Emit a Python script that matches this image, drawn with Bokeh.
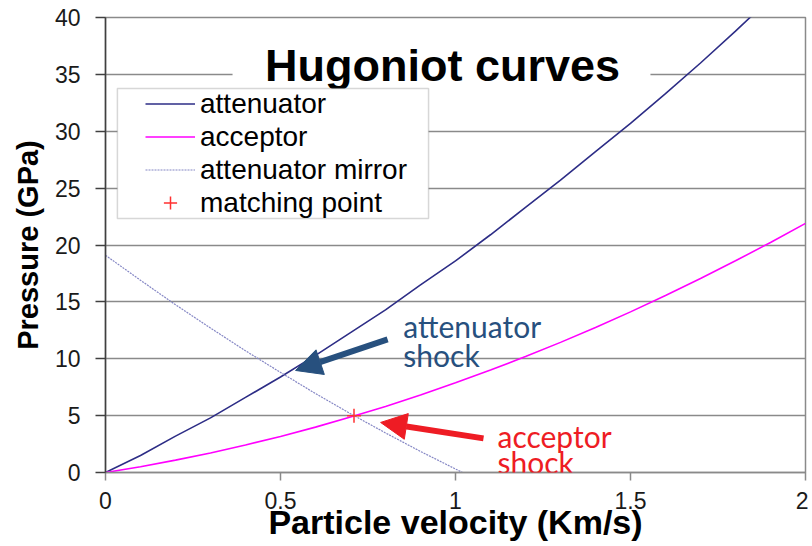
from bokeh.plotting import figure
from bokeh.models import (Range1d, FixedTicker, Legend, LegendItem, Label,
                          BoxAnnotation, Arrow, NormalHead)
from bokeh.embed import file_html
from bokeh.resources import INLINE

# ---------------- data ----------------
att_u = [0.0, 0.1, 0.2, 0.3, 0.4, 0.5, 0.6, 0.7, 0.8, 0.9, 1.0,
         1.1, 1.2, 1.3, 1.4, 1.5, 1.6, 1.7, 1.8, 1.9]
att_p = [0.0, 1.5, 3.2, 4.8, 6.6, 8.4, 10.3, 12.3, 14.3, 16.5, 18.6,
         20.9, 23.3, 25.7, 28.2, 30.7, 33.3, 36.0, 38.8, 41.7]

acc_u = [0.0, 0.1, 0.2, 0.3, 0.4, 0.5, 0.6, 0.7, 0.8, 0.9, 1.0,
         1.1, 1.2, 1.3, 1.4, 1.5, 1.6, 1.7, 1.8, 1.9, 2.0]
acc_p = [0.0, 0.51, 1.09, 1.72, 2.42, 3.17, 3.99, 4.87, 5.81, 6.82, 7.88,
         9.01, 10.19, 11.44, 12.75, 14.12, 15.56, 17.05, 18.61, 20.22, 21.9]

mir_u = [0.0, 0.1, 0.2, 0.3, 0.4, 0.5, 0.6, 0.7, 0.8, 0.9, 1.02]
mir_p = [19.1, 16.9, 14.75, 12.7, 10.7, 8.8, 6.94, 5.17, 3.48, 1.85, 0.0]

match_u = [0.71]
match_p = [5.0]

x_ticks = [0, 0.5, 1, 1.5, 2]
x_tick_labels = ["0", "0.5", "1", "1.5", "2"]
y_ticks = [0, 5, 10, 15, 20, 25, 30, 35, 40]

series_names = ["attenuator", "acceptor", "attenuator mirror", "matching point"]

# ---------------- styles ----------------
FONT = "Liberation Sans"
C_ATT = "#2d2d86"
C_ACC = "#ff00ff"
C_MIR = "#8486c4"
C_MATCH = "#ff3030"
C_BLUE_NOTE = "#27507e"
C_RED_NOTE = "#ee1c24"
GRID = "#8a8a8a"

p = figure(width=808, height=546, output_backend="svg", toolbar_location=None,
           x_range=Range1d(0, 2), y_range=Range1d(0, 40),
           min_border_left=105, min_border_right=3, min_border_top=17,
           min_border_bottom=74)

p.background_fill_color = "white"
p.border_fill_color = "white"
p.outline_line_color = GRID
p.outline_line_width = 1.5

# grid
p.xgrid.grid_line_color = None
p.ygrid.grid_line_color = GRID
p.ygrid.grid_line_width = 1.5
p.ygrid.ticker = FixedTicker(ticks=y_ticks)

# axes
p.xaxis.ticker = FixedTicker(ticks=x_ticks)
p.xaxis.major_label_overrides = {t: l for t, l in zip(x_ticks, x_tick_labels)}
p.yaxis.ticker = FixedTicker(ticks=y_ticks)
for ax in (p.xaxis[0], p.yaxis[0]):
    ax.minor_tick_line_color = None
    ax.major_tick_in = 0
    ax.major_label_text_font = FONT
    ax.major_label_text_font_size = "23px"
    ax.major_label_text_color = "#1a1a1a"
    ax.axis_label_text_font = FONT
    ax.axis_label_text_font_style = "bold"
    ax.axis_label_text_color = "black"
    ax.axis_line_width = 1.5

p.xaxis.axis_line_color = GRID
p.xaxis.major_tick_line_color = GRID
p.xaxis.major_tick_line_width = 1.5
p.xaxis.major_tick_out = 8
p.xaxis.major_label_standoff = 11
p.xaxis.axis_label = "Particle velocity (Km/s)"
p.xaxis.axis_label_text_font_size = "34px"
p.xaxis.axis_label_standoff = -9

p.yaxis.axis_line_color = "#404040"
p.yaxis.major_tick_line_color = "#404040"
p.yaxis.major_tick_line_width = 1.5
p.yaxis.major_tick_out = 10
p.yaxis.major_label_standoff = 15
p.yaxis.axis_label = "Pressure (GPa)"
p.yaxis.axis_label_text_font_size = "29px"
p.yaxis.axis_label_standoff = 8

# curves
r_att = p.line(att_u, att_p, line_color=C_ATT, line_width=1.6)
r_acc = p.line(acc_u, acc_p, line_color=C_ACC, line_width=1.6)
r_mir = p.line(mir_u, mir_p, line_color=C_MIR, line_width=1.2, line_dash="2 1")
r_match = p.scatter(match_u, match_p, marker="cross", size=14,
                    line_color=C_MATCH, line_width=1.5)

# title box + title
p.add_layout(BoxAnnotation(left=0.363, right=1.557, top=39.75, bottom=34.6,
                           fill_color="white", fill_alpha=1.0, line_alpha=0))
p.add_layout(Label(x=0.963, y=35.8, text="Hugoniot curves", text_align="center",
                   text_baseline="alphabetic", text_font=FONT,
                   text_font_style="bold", text_font_size="45px",
                   text_color="black"))

# legend frame
p.add_layout(BoxAnnotation(left=0.034, right=0.923, top=33.76, bottom=22.33,
                           fill_color="white", fill_alpha=1.0,
                           line_color="#7a7a7a", line_width=1.5))

legend = Legend(items=[LegendItem(label=series_names[0], renderers=[r_att]),
                       LegendItem(label=series_names[1], renderers=[r_acc]),
                       LegendItem(label=series_names[2], renderers=[r_mir]),
                       LegendItem(label=series_names[3], renderers=[r_match])],
                location=(40, 253), padding=0, margin=0, spacing=0,
                glyph_width=50, glyph_height=33, label_height=33,
                label_standoff=5, label_text_font=FONT,
                label_text_font_size="28px", label_text_color="black",
                background_fill_alpha=0, border_line_alpha=0)
p.add_layout(legend)

# annotations
p.add_layout(Arrow(end=NormalHead(size=26, fill_color=C_BLUE_NOTE,
                                  line_color=C_BLUE_NOTE),
                   x_start=0.806, y_start=11.7, x_end=0.543, y_end=8.97,
                   line_color=C_BLUE_NOTE, line_width=6))
p.add_layout(Arrow(end=NormalHead(size=26, fill_color=C_RED_NOTE,
                                  line_color=C_RED_NOTE),
                   x_start=1.08, y_start=3.0, x_end=0.786, y_end=4.4,
                   line_color=C_RED_NOTE, line_width=6))

for txt, x, y, c in [("attenuator", 0.851, 12.92, C_BLUE_NOTE),
                     ("shock", 0.851, 10.29, C_BLUE_NOTE),
                     ("acceptor", 1.12, 3.25, C_RED_NOTE),
                     ("shock", 1.12, 0.88, C_RED_NOTE)]:
    p.add_layout(Label(x=x, y=y, text=txt, text_align="left",
                       text_baseline="alphabetic", text_font="Lato",
                       text_font_size="30px", text_color=c))

open("out.html", "w").write(file_html(p, INLINE))
